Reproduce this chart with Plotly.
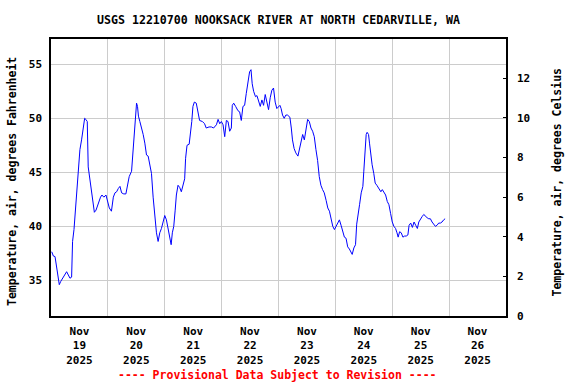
import pandas as pd
import plotly.graph_objects as go

# Hours since 2025-11-19 00:00 and air temperature (deg F)
hours = [0.3, 1.0, 1.7, 2.4, 3.1, 3.5, 4.1, 4.9, 5.9, 6.6, 7.3, 8.0, 8.7, 9.1, 9.7, 10.3, 10.8, 11.5,
         12.2, 12.9, 13.6, 14.2, 14.7, 15.3, 15.7, 16.4, 17.1, 17.8, 18.3, 19.0, 19.7, 20.4, 20.9, 21.5,
         22.3, 23.2, 23.7, 24.6, 25.5, 26.3, 27.0, 27.7, 28.4, 29.1, 29.8, 30.7, 31.6, 32.3, 33.0, 34.0,
         34.7, 35.2, 35.7, 36.1, 36.5, 36.9, 37.5, 38.2, 38.9, 39.6, 40.3, 41.0, 41.7, 42.4, 43.1, 43.8,
         44.5, 45.2, 45.9, 46.6, 47.3, 48.0, 48.7, 49.4, 50.1, 50.7, 51.2, 51.8, 52.4, 52.9, 53.6, 54.3,
         55.0, 55.7, 56.4, 56.8, 57.4, 58.3, 58.8, 59.4, 59.9, 60.5, 61.3, 62.0, 62.7, 63.9, 64.8, 65.5,
         66.7, 67.7, 68.6, 69.8, 70.5, 71.2, 71.9, 72.6, 73.3, 74.0, 74.7, 75.4, 76.1, 76.5, 77.1, 77.9,
         78.9, 79.6, 80.3, 81.0, 81.7, 82.4, 83.1, 83.8, 84.4, 84.9, 85.5, 86.3, 86.9, 87.6, 88.3, 89.0,
         89.7, 90.4, 91.1, 91.8, 92.5, 93.2, 93.9, 94.6, 95.3, 96.0, 96.6, 97.1, 97.7, 98.4, 99.1, 99.8,
         100.8, 101.4, 101.9, 102.6, 103.3, 104.2, 104.8, 105.5, 106.2, 106.9, 107.6, 108.3, 109.0, 109.7,
         110.4, 111.1, 111.8, 112.5, 113.2, 113.9, 114.6, 115.3, 116.1, 116.8, 117.5, 118.2, 118.9, 119.6,
         120.3, 121.0, 121.7, 122.4, 123.1, 123.8, 124.5, 125.2, 125.9, 126.6, 127.1, 127.8, 128.5, 129.0,
         129.6, 130.2, 130.9, 131.6, 132.0, 132.4, 133.0, 133.4, 134.0, 134.4, 135.0, 135.5, 136.2, 136.8,
         137.5, 138.4, 139.2, 139.8, 140.5, 141.2, 141.9, 142.6, 143.3, 144.0, 144.7, 145.4, 146.0, 146.5,
         147.1, 147.8, 148.5, 149.2, 149.9, 150.6, 151.1, 151.8, 152.5, 153.2, 153.9, 154.6, 155.2, 155.9,
         156.6, 157.3, 158.0, 158.7, 159.4, 160.1, 160.8, 161.5, 162.2, 162.9, 163.6, 164.3, 165.0, 165.7,
         166.3]
temp_f = [37.65, 37.25, 37.2, 36.3, 35.3, 34.6, 34.9, 35.2, 35.6, 35.8, 35.5, 35.2, 35.3, 38.6, 39.7,
          41.5, 43.1, 45.1, 47.1, 48.0, 49.2, 50.0, 49.9, 49.7, 45.5, 44.3, 42.9, 41.8, 41.3, 41.5,
          42.0, 42.3, 42.7, 42.9, 42.7, 42.9, 42.4, 41.7, 41.4, 42.7, 43.1, 43.2, 43.5, 43.7, 43.1,
          43.0, 43.0, 44.0, 44.6, 45.1, 47.4, 48.9, 50.3, 51.4, 51.1, 50.2, 49.7, 49.2, 48.5, 47.7,
          46.6, 46.5, 45.5, 44.9, 42.7, 41.2, 39.4, 38.6, 39.4, 39.8, 40.5, 41.0, 40.6, 39.7, 38.7,
          38.3, 39.4, 40.0, 41.5, 42.9, 43.8, 43.6, 43.2, 43.8, 44.4, 46.3, 47.5, 47.6, 48.5, 49.7,
          51.1, 51.5, 51.4, 50.5, 49.8, 49.7, 49.5, 49.1, 49.2, 49.2, 49.1, 49.4, 49.9, 49.5, 49.7,
          49.4, 48.3, 49.8, 49.7, 48.8, 49.1, 51.2, 51.4, 51.1, 50.7, 50.6, 49.8, 51.1, 51.2, 52.3,
          53.4, 54.3, 54.5, 53.2, 52.5, 52.0, 52.1, 51.5, 51.1, 51.7, 51.2, 52.2, 51.5, 50.8, 51.9,
          52.6, 52.8, 51.5, 50.9, 51.1, 51.2, 50.9, 50.3, 50.0, 50.3, 50.3, 50.1, 49.1, 48.0, 47.2,
          46.8, 46.5, 47.1, 47.7, 48.5, 48.0, 49.1, 49.9, 49.7, 49.1, 48.8, 48.3, 47.1, 46.1, 44.6,
          43.8, 43.4, 43.1, 42.4, 41.7, 41.4, 40.6, 40.0, 39.7, 40.0, 40.4, 40.6, 40.1, 39.4, 39.0,
          38.9, 38.1, 37.9, 37.5, 37.4, 38.0, 38.3, 40.2, 41.4, 42.0, 43.1, 43.7, 45.1, 46.6, 48.5,
          48.7, 48.5, 47.7, 46.5, 45.7, 44.9, 44.0, 43.8, 43.5, 43.2, 43.4, 43.1, 42.9, 42.3, 42.0,
          41.2, 40.4, 40.0, 39.8, 39.4, 39.0, 39.5, 39.4, 39.0, 39.1, 39.1, 39.2, 40.1, 40.3, 39.9,
          40.4, 40.1, 39.8, 40.4, 40.7, 40.9, 41.1, 40.9, 40.8, 40.7, 40.7, 40.4, 40.2, 40.0, 40.1,
          40.3, 40.3, 40.4, 40.6, 40.7]

start = pd.Timestamp("2025-11-19 00:00")
end = pd.Timestamp("2025-11-27 00:00")
times = [start + pd.Timedelta(hours=h) for h in hours]

f_ticks = [35, 40, 45, 50, 55]
c_ticks = [0, 2, 4, 6, 8, 10, 12]
f_range = [31.7, 57.34]
c_range = [0, 13.98]

FONT = "DejaVu Sans Mono"

fig = go.Figure()
fig.add_trace(go.Scatter(x=times, y=temp_f, mode="lines",
                         line=dict(color="#0000FF", width=1), showlegend=False))
# invisible trace to activate the Celsius axis
fig.add_trace(go.Scatter(x=[start], y=[0], yaxis="y2", mode="markers",
                         marker=dict(opacity=0), showlegend=False, hoverinfo="skip"))

fig.update_layout(
    width=576, height=384,
    margin=dict(l=51, r=70, t=39, b=68),
    paper_bgcolor="white", plot_bgcolor="white",
    font=dict(family=FONT, size=11, color="black", weight="bold"),
    title=dict(text="USGS 12210700 NOOKSACK RIVER AT NORTH CEDARVILLE, WA",
               x=0.5, xref="paper", y=1 - 20 / 384, yanchor="middle",
               font=dict(family=FONT, size=11.6, color="black", weight="bold")),
    xaxis=dict(range=[start, end], type="date", dtick=86400000, tick0=start,
               tickformat="%b<br>%d<br>%Y", ticklabelmode="period",
               showgrid=True, gridcolor="#cccccc", gridwidth=1,
               ticks="", ticklabelstandoff=4,
               showline=True, linecolor="black", linewidth=1.5, mirror=True,
               tickfont=dict(size=11), zeroline=False),
    yaxis=dict(range=f_range, tickvals=f_ticks, showgrid=True, gridcolor="#cccccc",
               gridwidth=1, ticks="", ticklabelstandoff=5,
               showline=True, linecolor="black", linewidth=1.5, mirror=True,
               zeroline=False, tickfont=dict(size=11)),
    yaxis2=dict(range=c_range, tickvals=c_ticks, overlaying="y", side="right",
                showgrid=False, ticks="inside", ticklen=3, tickcolor="black",
                ticklabelstandoff=10, zeroline=False, showline=False,
                tickfont=dict(size=11)),
    annotations=[
        dict(text="Temperature, air, degrees Fahrenheit", textangle=-90,
             xref="paper", yref="paper", x=-(51 - 12) / 455, y=(316 - 182) / 277,
             xanchor="center", yanchor="middle", showarrow=False,
             font=dict(size=11.5)),
        dict(text="Temperature, air, degrees Celsius", textangle=-90,
             xref="paper", yref="paper", x=(556 - 51) / 455, y=(316 - 182.5) / 277,
             xanchor="center", yanchor="middle", showarrow=False,
             font=dict(size=11.5)),
        dict(text="---- Provisional Data Subject to Revision ----",
             xref="paper", yref="paper", x=(277 - 51) / 455, y=(316 - 375) / 277,
             xanchor="center", yanchor="middle", showarrow=False,
             font=dict(size=11.5, color="#FF0000")),
    ],
)

fig.write_html("out.html", config={"displayModeBar": False},
               post_script="document.body.style.margin='0px';")
